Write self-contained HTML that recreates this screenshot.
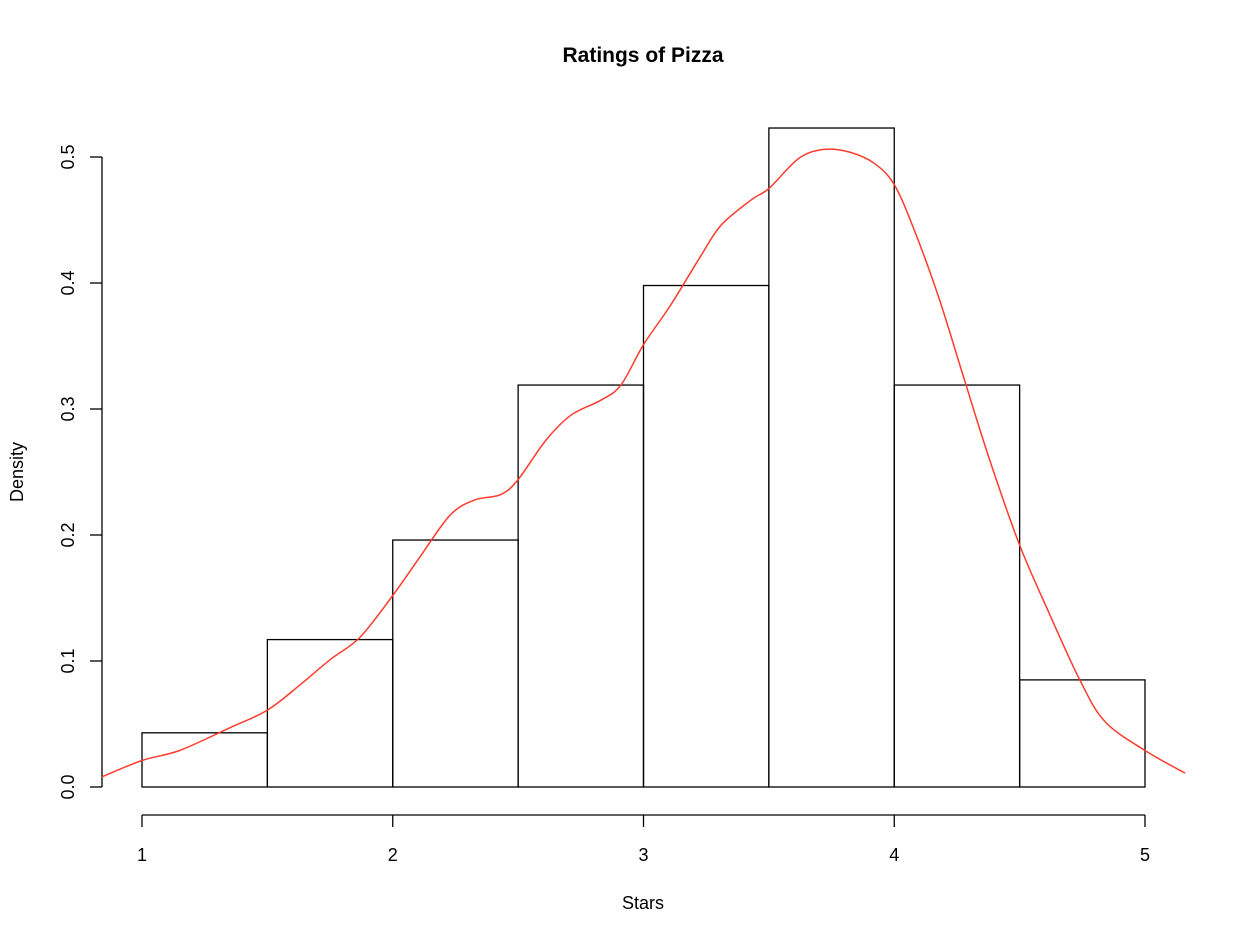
<!DOCTYPE html>
<html><head><meta charset="utf-8"><style>
body{margin:0;background:#fff}
svg{display:block;font-family:"Liberation Sans",sans-serif}
</style></head><body>
<svg id="chart" width="1235" height="939" viewBox="0 0 1235 939">
<text x="643" y="62" text-anchor="middle" font-size="21" font-weight="bold">Ratings of Pizza</text>
<text x="643" y="909" text-anchor="middle" font-size="18">Stars</text>
<text transform="translate(23,472) rotate(-90)" text-anchor="middle" font-size="18">Density</text>
<g id="bars"></g><g id="axes"></g><g id="curve"></g>
</svg>
<script>
const binEdges=[1,1.5,2,2.5,3,3.5,4,4.5,5];
const densities=[0.043,0.117,0.196,0.319,0.398,0.523,0.319,0.085];
const xTicks=[1,2,3,4,5];
const yTicks=[0,0.1,0.2,0.3,0.4,0.5];
const yTickLabels=["0.0","0.1","0.2","0.3","0.4","0.5"];
const kdeX=[0.84,1.0,1.15,1.35,1.5,1.63,1.75,1.87,2.0,2.11,2.23,2.33,2.43,2.5,2.61,2.71,2.83,2.91,3.0,3.11,3.23,3.31,3.43,3.5,3.62,3.72,3.82,3.92,4.0,4.08,4.18,4.28,4.38,4.5,4.62,4.74,4.84,5.0,5.16];
const kdeY=[0.008,0.021,0.029,0.047,0.061,0.081,0.101,0.119,0.152,0.183,0.216,0.228,0.232,0.244,0.275,0.295,0.307,0.319,0.351,0.383,0.422,0.446,0.466,0.475,0.499,0.506,0.504,0.495,0.478,0.442,0.387,0.323,0.260,0.192,0.137,0.085,0.052,0.029,0.011];
const NS="http://www.w3.org/2000/svg";
const xs=v=>142+(v-1)*250.75;
const ys=v=>787-v*1260;
function mk(tag,attrs,parent){const e=document.createElementNS(NS,tag);for(const k in attrs)e.setAttribute(k,attrs[k]);parent.appendChild(e);return e;}
const bars=document.getElementById('bars'),axes=document.getElementById('axes'),curve=document.getElementById('curve');
densities.forEach((d,i)=>{
 const r=mk('rect',{x:xs(binEdges[i]),y:ys(d),width:xs(binEdges[i+1])-xs(binEdges[i]),height:ys(0)-ys(d),fill:'none',stroke:'#000','stroke-width':1.3},bars);
 
 
});
let l=mk('line',{x1:xs(1),x2:xs(5),y1:815,y2:815,stroke:'#000','stroke-width':1.3},axes);


xTicks.forEach(t=>{
 mk('line',{x1:xs(t),x2:xs(t),y1:815,y2:827,stroke:'#000','stroke-width':1.3},axes);
 const tx=mk('text',{x:xs(t),y:861,'text-anchor':'middle','font-size':18},axes);tx.textContent=t;
 
 
});
l=mk('line',{x1:102,x2:102,y1:ys(0),y2:ys(0.5),stroke:'#000','stroke-width':1.3},axes);


yTicks.forEach((t,i)=>{
 mk('line',{x1:90,x2:102,y1:ys(t),y2:ys(t),stroke:'#000','stroke-width':1.3},axes);
 const tx=mk('text',{transform:`translate(74,${ys(t)}) rotate(-90)`,'text-anchor':'middle','font-size':18},axes);tx.textContent=yTickLabels[i];
 
 
});
const P=kdeX.map((x,i)=>[xs(x),ys(kdeY[i])]);
let d='M'+P[0][0].toFixed(1)+','+P[0][1].toFixed(1);
for(let i=0;i<P.length-1;i++){
 const p0=P[Math.max(0,i-1)],p1=P[i],p2=P[i+1],p3=P[Math.min(P.length-1,i+2)];
 const c1=[p1[0]+(p2[0]-p0[0])/6,p1[1]+(p2[1]-p0[1])/6];
 const c2=[p2[0]-(p3[0]-p1[0])/6,p2[1]-(p3[1]-p1[1])/6];
 d+=`C${c1[0].toFixed(1)},${c1[1].toFixed(1)} ${c2[0].toFixed(1)},${c2[1].toFixed(1)} ${p2[0].toFixed(1)},${p2[1].toFixed(1)}`;
}
const p=mk('path',{d:d,fill:'none',stroke:'#ff3b2f','stroke-width':1.5,'stroke-linejoin':'round'},curve);


</script>
</body></html>
